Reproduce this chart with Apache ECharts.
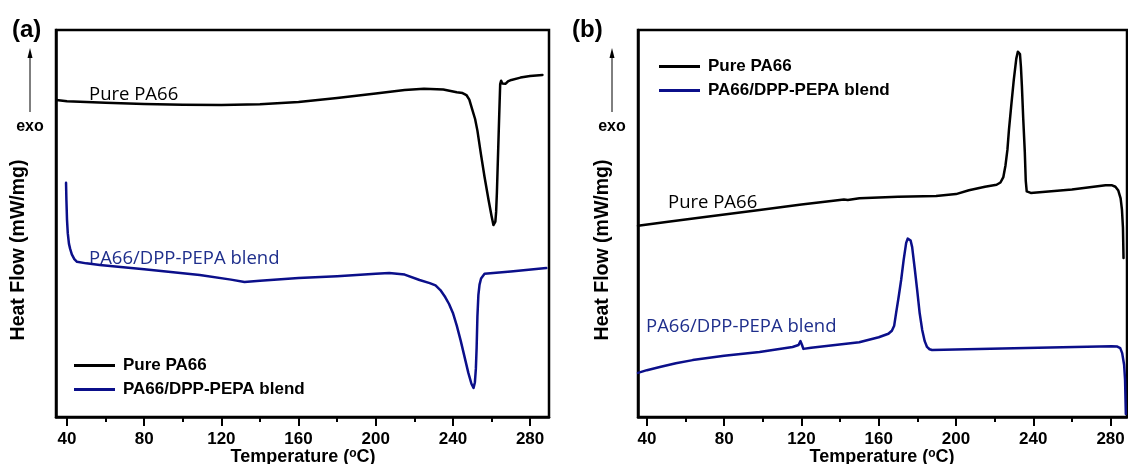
<!DOCTYPE html>
<html>
<head>
<meta charset="utf-8">
<script src="https://cdn.jsdelivr.net/npm/echarts@6/dist/echarts.min.js"></script>
<style>
  html, body { margin: 0; padding: 0; background: #fff; }
  #chart { width: 1128px; height: 464px; }
</style>
</head>
<body>
<div id="chart"></div>
<script>
// DSC traces: (a) heating scan, (b) cooling scan. Temperature in °C, heat flow in arbitrary offset units (exo up).
const tempTicks = [40, 80, 120, 160, 200, 240, 280];
const tempMinorTicks = [60, 100, 140, 180, 220, 260];
const seriesNames = ['Pure PA66', 'PA66/DPP-PEPA blend'];

const pureHeating = [
  [34.5, 81.9], [40, 81.6], [60, 81.2], [80, 80.9], [100, 80.7], [120, 80.6], [140, 80.8],
  [160, 81.4], [180, 82.4], [200, 83.6], [215, 84.5], [225, 84.8], [235, 84.6], [242, 83.9],
  [245, 83.7], [247, 83.2], [248.5, 82.0], [250, 79.5], [251.5, 77], [252.7, 74], [254.5, 68],
  [256.4, 62], [258.5, 56], [260, 52], [261, 49.6], [261.5, 49.1], [262, 50.5], [262.4, 53],
  [262.8, 58], [263.4, 68], [264, 78], [264.5, 86.0], [265, 86.9], [265.6, 86.2], [266.3, 85.8],
  [267.2, 86.1], [268.5, 86.7], [270.3, 87.1], [275, 87.7], [280, 88.1], [286.4, 88.4]
];

const blendHeating = [
  [39.5, 60.5], [39.7, 56], [40.0, 51], [40.4, 47.5], [41, 44.8], [41.6, 43.5], [42.5, 42],
  [43.8, 40.8], [45.2, 40.1], [50, 39.7], [57, 39.3], [80, 38.2], [108.8, 36.7], [125, 35.5],
  [132, 34.9], [140, 35.2], [160, 35.9], [180, 36.4], [200, 37.0], [207, 37.2], [215, 36.8],
  [222.7, 35.4], [228, 34.6], [231, 34.0], [233.5, 32.8], [236, 31], [238, 29.2], [240, 26.9],
  [242, 23.6], [244, 19.8], [246, 15.6], [248, 11.4], [249.6, 8.6], [250.7, 7.5], [251.4, 9],
  [251.9, 12.5], [252.3, 18], [252.7, 26], [253.2, 31.5], [253.8, 34.2], [254.6, 35.8],
  [256.4, 37.0], [270, 37.6], [288.4, 38.5]
];

const pureCooling = [
  [35.4, 49.4], [50, 50.4], [70, 51.7], [98.3, 53.5], [120, 54.9], [142, 56.2], [143, 56.6],
  [144, 56.1], [150, 56.5], [170, 56.9], [189.7, 57.1], [200, 57.6], [206.7, 58.6], [215, 59.5],
  [221, 60.0], [223, 60.6], [224.5, 62.0], [225.6, 65], [226.6, 69], [227.4, 74.2],
  [228.6, 80.5], [229.9, 87.1], [231.2, 92.6], [232, 94.4], [232.5, 94.8], [233.1, 93.8],
  [233.6, 90.5], [234.1, 85.5], [234.8, 77], [235.6, 68.5], [236.1, 61], [236.6, 58.3],
  [237.3, 57.8], [238.7, 57.9], [260, 58.8], [277.4, 59.9], [280.5, 59.9], [282.5, 59.5],
  [284, 58.5], [285.2, 56.5], [285.9, 53.5], [286.4, 49], [286.7, 41.1]
];

const blendCooling = [
  [35.4, 11.4], [40, 12.1], [46.7, 12.9], [55, 13.9], [63.7, 14.7], [80, 15.8], [98.3, 16.8],
  [115.4, 18.1], [118.5, 18.6], [119.5, 19.6], [120.3, 18.6], [121, 17.6], [125, 17.9],
  [149.9, 19.3], [160, 20.6], [165, 21.5], [166.8, 22.3], [168, 23.6], [169, 26.9],
  [170.3, 31], [171.6, 35.4], [172.9, 40.6], [174.2, 45.0], [175, 46.1], [175.7, 46.3],
  [176.5, 45.6], [177.3, 43.9], [178.6, 38.5], [179.9, 32.8], [181.2, 26.8], [182.5, 22.5],
  [183.8, 19.6], [185, 18.1], [186.3, 17.5], [187.6, 17.3], [236.1, 17.8], [280.5, 18.3],
  [283.5, 18.2], [285, 17.8], [286, 16.5], [287, 13.5], [287.5, 9.6], [287.9, 0.8]
];

const BLACK = '#000000';
const NAVY = '#0b0f8a';
const NAVY_TEXT = '#1f2f8c';
const AXIS_FONT = 'Liberation Sans, Arial, sans-serif';
const NOTE_FONT = '"Open Sans", sans-serif';

const panels = [
  { left: 56, right: 579, xMin: 34.3, xMax: 289.8 },
  { left: 638, right: 1, xMin: 35.4, xMax: 288.5 }
];

const grids = panels.map(p => ({
  left: p.left, right: p.right, top: 30, bottom: 47,
  containLabel: false, outerBoundsMode: 'none',
  show: true, borderColor: BLACK, borderWidth: 2.5, backgroundColor: 'transparent'
}));

const xAxes = [];
panels.forEach((p, i) => {
  xAxes.push({
    type: 'value', gridIndex: i, min: p.xMin, max: p.xMax, position: 'bottom',
    axisLine: { show: true, lineStyle: { color: BLACK, width: 2.5 } },
    axisTick: { show: true, customValues: tempTicks, length: 9, inside: false,
      lineStyle: { color: BLACK, width: 2 } },
    axisLabel: { show: true, customValues: tempTicks, margin: 14, color: BLACK,
      fontFamily: AXIS_FONT, fontWeight: 'bold', fontSize: 17 },
    splitLine: { show: false }
  });
});
panels.forEach((p, i) => {
  xAxes.push({
    type: 'value', gridIndex: i, min: p.xMin, max: p.xMax, position: 'bottom',
    axisLine: { show: false },
    axisTick: { show: true, customValues: tempMinorTicks, length: 5, inside: false,
      lineStyle: { color: BLACK, width: 2 } },
    axisLabel: { show: false },
    splitLine: { show: false }
  });
});

const yAxes = panels.map((p, i) => ({
  type: 'value', gridIndex: i, min: 0, max: 100,
  axisLine: { show: true, lineStyle: { color: BLACK, width: 2.5 } },
  axisTick: { show: false }, axisLabel: { show: false }, splitLine: { show: false }
}));

function trace(name, data, color, gi) {
  return {
    name, type: 'line', data, xAxisIndex: gi, yAxisIndex: gi,
    showSymbol: false, smooth: false,
    lineStyle: { color, width: 2.5, join: 'round', cap: 'round' }, itemStyle: { color },
    silent: true, animation: false
  };
}

function legendAt(left, top) {
  return {
    left, top, orient: 'vertical', icon: 'rect', itemWidth: 41, itemHeight: 3, itemGap: 7,
    data: seriesNames, selectedMode: false,
    textStyle: { fontFamily: AXIS_FONT, fontWeight: 'bold', fontSize: 17, color: BLACK, padding: [0, 0, 0, 3] }
  };
}

function txt(x, y, text, font, fill, extra) {
  return Object.assign({
    type: 'text', x, y, silent: true,
    style: { text, font, fill, textAlign: 'left', textVerticalAlign: 'middle' }
  }, extra || {});
}

function exoArrow(x) {
  return [
    { type: 'line', silent: true, shape: { x1: x, y1: 112, x2: x, y2: 56 }, style: { stroke: BLACK, lineWidth: 1 } },
    { type: 'polygon', silent: true, shape: { points: [[x, 48], [x - 2.5, 58], [x + 2.5, 58]] }, style: { fill: BLACK } },
    { type: 'text', silent: true, x: x, y: 127, style: { text: 'exo', font: 'bold 16px ' + AXIS_FONT, fill: BLACK, textAlign: 'center', textVerticalAlign: 'middle' } }
  ];
}

function yTitle(x) {
  return { type: 'text', silent: true, x, y: 250, rotation: Math.PI / 2,
    style: { text: 'Heat Flow (mW/mg)', font: 'bold 19.5px ' + AXIS_FONT, fill: BLACK, textAlign: 'center', textVerticalAlign: 'middle' } };
}

// Temperature axis title with a raised "o" for the degree sign
function xTitle(x) {
  return { type: 'text', silent: true, x, y: 448,
    style: {
      text: '{t|Temperature (}{s|o}{t|C)}', textAlign: 'center', textVerticalAlign: 'top',
      rich: {
        t: { fontFamily: AXIS_FONT, fontWeight: 'bold', fontSize: 18, fill: BLACK, lineHeight: 18, verticalAlign: 'bottom' },
        s: { fontFamily: AXIS_FONT, fontWeight: 'bold', fontSize: 12, fill: BLACK, lineHeight: 18, verticalAlign: 'top', padding: [0, 0, 8, 0] }
      }
    } };
}

const option = {
  animation: false,
  backgroundColor: '#fff',
  grid: grids,
  xAxis: xAxes,
  yAxis: yAxes,
  legend: [legendAt(69, 352), legendAt(654, 53)],
  series: [
    trace(seriesNames[0], pureHeating, BLACK, 0),
    trace(seriesNames[1], blendHeating, NAVY, 0),
    trace(seriesNames[0], pureCooling, BLACK, 1),
    trace(seriesNames[1], blendCooling, NAVY, 1)
  ],
  graphic: [
    txt(12, 30, '(a)', 'bold 24px ' + AXIS_FONT, BLACK),
    txt(572, 30, '(b)', 'bold 24px ' + AXIS_FONT, BLACK),
    ...exoArrow(30),
    ...exoArrow(612),
    yTitle(19),
    yTitle(603),
    xTitle(303),
    xTitle(882),
    txt(89, 95, 'Pure PA66', '18.5px ' + NOTE_FONT, BLACK),
    txt(89, 259, 'PA66/DPP-PEPA blend', '18.5px ' + NOTE_FONT, NAVY_TEXT),
    txt(668, 203, 'Pure PA66', '18.5px ' + NOTE_FONT, BLACK),
    txt(646, 327, 'PA66/DPP-PEPA blend', '18.5px ' + NOTE_FONT, NAVY_TEXT)
  ]
};

const chart = echarts.init(document.getElementById('chart'), null, { renderer: 'canvas' });
chart.setOption(option);
</script>
</body>
</html>
